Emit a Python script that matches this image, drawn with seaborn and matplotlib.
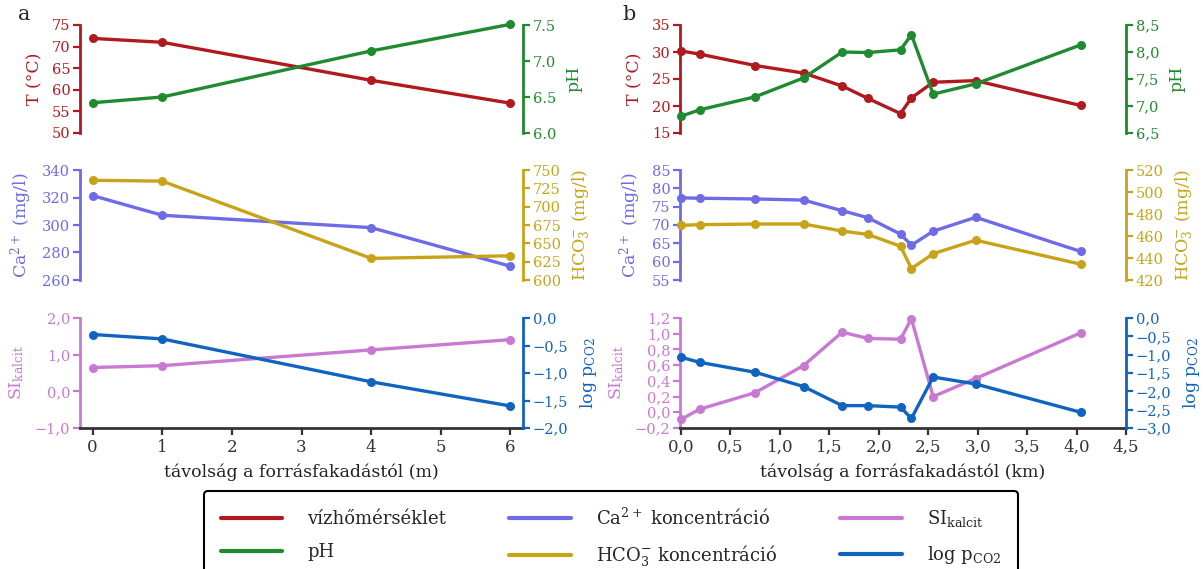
import numpy as np
import pandas as pd
import matplotlib
matplotlib.use("Agg")
import matplotlib.pyplot as plt
from matplotlib.lines import Line2D
import seaborn as sns

# ---------------- data ----------------
# panel a (distance in m)
xa = [0, 1, 4, 6]
Ta = [71.9, 71.0, 62.2, 56.9]
pHa = [6.42, 6.50, 7.14, 7.51]
Caa = [321.4, 307.1, 298.1, 270.0]
HCO3a = [736.0, 734.8, 629.5, 633.0]
SIa = [0.65, 0.70, 1.13, 1.41]
pCO2a = [-0.30, -0.38, -1.16, -1.60]

# panel b (distance in km)
xb = [0.0, 0.19, 0.75, 1.24, 1.63, 1.89, 2.22, 2.33, 2.55, 2.98, 4.04]
Tb = [30.2, 29.6, 27.5, 26.1, 23.7, 21.4, 18.6, 21.5, 24.4, 24.7, 20.1]
pHb = [6.81, 6.93, 7.17, 7.52, 8.00, 7.99, 8.04, 8.32, 7.22, 7.41, 8.13]
Cab = [77.4, 77.3, 77.1, 76.8, 73.9, 72.0, 67.5, 64.5, 68.3, 72.1, 62.8]
HCO3b = [469.7, 470.3, 470.9, 470.9, 464.5, 461.4, 450.7, 430.4, 443.9, 456.2, 434.4]
SIb = [-0.09, 0.04, 0.25, 0.595, 1.02, 0.94, 0.93, 1.19, 0.20, 0.43, 1.01]
pCO2b = [-1.07, -1.21, -1.48, -1.87, -2.39, -2.39, -2.43, -2.74, -1.61, -1.80, -2.57]

# tick values and labels
a_T_ticks = [50, 55, 60, 65, 70, 75]
a_T_labels = ["50", "55", "60", "65", "70", "75"]
a_pH_ticks = [6.0, 6.5, 7.0, 7.5]
a_pH_labels = ["6.0", "6.5", "7.0", "7.5"]
a_Ca_ticks = [260, 280, 300, 320, 340]
a_Ca_labels = ["260", "280", "300", "320", "340"]
a_HCO3_ticks = [600, 625, 650, 675, 700, 725, 750]
a_HCO3_labels = ["600", "625", "650", "675", "700", "725", "750"]
a_SI_ticks = [-1.0, 0.0, 1.0, 2.0]
a_SI_labels = ["−1,0", "0,0", "1,0", "2,0"]
a_p_ticks = [-2.0, -1.5, -1.0, -0.5, 0.0]
a_p_labels = ["−2,0", "−1,5", "−1,0", "−0,5", "0,0"]
a_x_ticks = [0, 1, 2, 3, 4, 5, 6]
a_x_labels = ["0", "1", "2", "3", "4", "5", "6"]

b_T_ticks = [15, 20, 25, 30, 35]
b_T_labels = ["15", "20", "25", "30", "35"]
b_pH_ticks = [6.5, 7.0, 7.5, 8.0, 8.5]
b_pH_labels = ["6,5", "7,0", "7,5", "8,0", "8,5"]
b_Ca_ticks = [55, 60, 65, 70, 75, 80, 85]
b_Ca_labels = ["55", "60", "65", "70", "75", "80", "85"]
b_HCO3_ticks = [420, 440, 460, 480, 500, 520]
b_HCO3_labels = ["420", "440", "460", "480", "500", "520"]
b_SI_ticks = [-0.2, 0.0, 0.2, 0.4, 0.6, 0.8, 1.0, 1.2]
b_SI_labels = ["−0,2", "0,0", "0,2", "0,4", "0,6", "0,8", "1,0", "1,2"]
b_p_ticks = [-3.0, -2.5, -2.0, -1.5, -1.0, -0.5, 0.0]
b_p_labels = ["−3,0", "−2,5", "−2,0", "−1,5", "−1,0", "−0,5", "0,0"]
b_x_ticks = [0.0, 0.5, 1.0, 1.5, 2.0, 2.5, 3.0, 3.5, 4.0, 4.5]
b_x_labels = ["0,0", "0,5", "1,0", "1,5", "2,0", "2,5", "3,0", "3,5", "4,0", "4,5"]

legend_labels = ["vízhőmérséklet", "pH", "Ca$^{2+}$ koncentráció",
                 "HCO$_3^{-}$ koncentráció", r"SI$_{\mathrm{kalcit}}$",
                 r"log p$_{\mathrm{CO2}}$"]

# ---------------- style ----------------
sns.set_style("white")
plt.rcParams["font.family"] = ["DejaVu Serif"]
plt.rcParams["mathtext.fontset"] = "dejavuserif"

C_T = "#b01a1f"
C_PH = "#1f8a30"
C_CA = "#6e6be6"
C_HCO3 = "#c8a318"
C_SI = "#c87ad2"
C_P = "#1064bf"
C_AX = "#333333"

TICK_FS = 10.5
LAB_FS = 12.5

fig = plt.figure(figsize=(12.03, 5.69), dpi=100)
W, H = 1203.0, 569.0

rows = [(25, 133), (170, 280), (318, 428)]
cols = [(80, 523), (680, 1126)]


def make_ax(col, row):
    x0, x1 = cols[col]
    y0, y1 = rows[row]
    return fig.add_axes([x0 / W, 1 - y1 / H, (x1 - x0) / W, (y1 - y0) / H])


def draw(ax, x, y, color):
    sns.lineplot(x=x, y=y, ax=ax, color=color, marker="o", markersize=6.5,
                 markeredgewidth=0, linewidth=2.4, legend=False, sort=False,
                 clip_on=False)


def style_left(ax, color, ticks, labels, ylab, bottom=False):
    for s in ["top", "right"]:
        ax.spines[s].set_visible(False)
    ax.spines["left"].set_color(color)
    ax.spines["left"].set_linewidth(2.0)
    ax.set_ylim(ticks[0], ticks[-1])
    ax.set_yticks(ticks)
    ax.set_yticklabels(labels)
    ax.tick_params(axis="y", colors=color, length=5, width=1.6,
                   labelsize=TICK_FS, pad=2, left=True, direction="out")
    ax.set_ylabel(ylab, color=color, fontsize=LAB_FS, labelpad=6)
    if not bottom:
        ax.spines["bottom"].set_visible(False)
        ax.set_xticks([])
        ax.set_xlabel("")


def style_right(ax2, color, ticks, labels, ylab):
    for s in ["top", "left", "bottom"]:
        ax2.spines[s].set_visible(False)
    ax2.spines["right"].set_color(color)
    ax2.spines["right"].set_linewidth(2.0)
    ax2.set_ylim(ticks[0], ticks[-1])
    ax2.set_yticks(ticks)
    ax2.set_yticklabels(labels)
    ax2.tick_params(axis="y", colors=color, length=5, width=1.6,
                    labelsize=TICK_FS, pad=2, right=True, direction="out")
    ax2.set_ylabel(ylab, color=color, fontsize=LAB_FS, labelpad=7)


panels = [
    dict(x=xa, xlim=(-0.18, 6.18), xt=a_x_ticks, xl=a_x_labels,
         xlabel="távolság a forrásfakadástól (m)",
         rows=[(Ta, C_T, a_T_ticks, a_T_labels, "T (°C)",
                pHa, C_PH, a_pH_ticks, a_pH_labels, "pH"),
               (Caa, C_CA, a_Ca_ticks, a_Ca_labels, "Ca$^{2+}$ (mg/l)",
                HCO3a, C_HCO3, a_HCO3_ticks, a_HCO3_labels, "HCO$_3^{-}$ (mg/l)"),
               (SIa, C_SI, a_SI_ticks, a_SI_labels, r"SI$_{\mathrm{kalcit}}$",
                pCO2a, C_P, a_p_ticks, a_p_labels, r"log p$_{\mathrm{CO2}}$")]),
    dict(x=xb, xlim=(-0.01, 4.5), xt=b_x_ticks, xl=b_x_labels,
         xlabel="távolság a forrásfakadástól (km)",
         rows=[(Tb, C_T, b_T_ticks, b_T_labels, "T (°C)",
                pHb, C_PH, b_pH_ticks, b_pH_labels, "pH"),
               (Cab, C_CA, b_Ca_ticks, b_Ca_labels, "Ca$^{2+}$ (mg/l)",
                HCO3b, C_HCO3, b_HCO3_ticks, b_HCO3_labels, "HCO$_3^{-}$ (mg/l)"),
               (SIb, C_SI, b_SI_ticks, b_SI_labels, r"SI$_{\mathrm{kalcit}}$",
                pCO2b, C_P, b_p_ticks, b_p_labels, r"log p$_{\mathrm{CO2}}$")]),
]

for ci, p in enumerate(panels):
    for ri, r in enumerate(p["rows"]):
        (yl, cl, tl, ll, labl, yr, cr, tr, lr, labr) = r
        ax = make_ax(ci, ri)
        ax.set_facecolor("none")
        ax2 = ax.twinx()
        draw(ax, p["x"], yl, cl)
        draw(ax2, p["x"], yr, cr)
        ax.set_xlim(*p["xlim"])
        bottom = ri == 2
        style_left(ax, cl, tl, ll, labl, bottom=bottom)
        style_right(ax2, cr, tr, lr, labr)
        if bottom:
            ax.spines["bottom"].set_color(C_AX)
            ax.spines["bottom"].set_linewidth(2.0)
            ax.set_xticks(p["xt"])
            ax.set_xticklabels(p["xl"])
            ax.tick_params(axis="x", colors=C_AX, length=5, width=1.6,
                           labelsize=TICK_FS + 1.5, pad=3, bottom=True,
                           direction="out")
            ax.set_xlabel(p["xlabel"], fontsize=LAB_FS, color="#222222",
                          labelpad=5)
        ax.set_xlim(*p["xlim"])

fig.text(18 / W, 1 - 15 / H, "a", fontsize=15, va="center", ha="left")
fig.text(622 / W, 1 - 15 / H, "b", fontsize=15, va="center", ha="left")

handles = [Line2D([], [], color=c, lw=3)
           for c in [C_T, C_PH, C_CA, C_HCO3, C_SI, C_P]]
leg = fig.legend(handles, legend_labels, loc="upper center",
                 bbox_to_anchor=(611 / W, 1 - 491 / H), ncol=3,
                 fontsize=13, frameon=True, fancybox=True,
                 handlelength=3.4, handletextpad=1.4, columnspacing=3.5,
                 labelspacing=0.8, borderpad=0.9, borderaxespad=0)
frame = leg.get_frame()
frame.set_edgecolor("black")
frame.set_linewidth(1.5)
frame.set_alpha(1)

fig.savefig("out.png", dpi=100)
